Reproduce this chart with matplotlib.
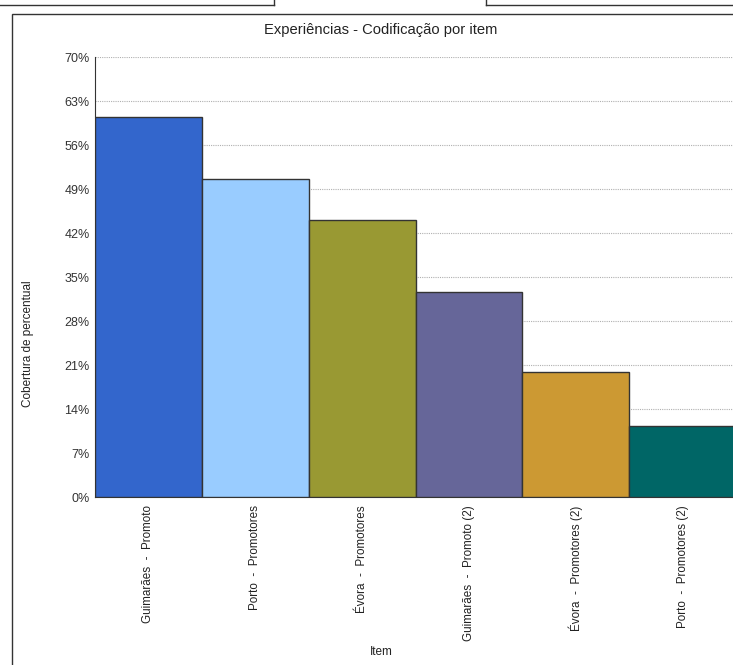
import matplotlib
matplotlib.use("Agg")
import matplotlib.pyplot as plt
from matplotlib.lines import Line2D
from matplotlib.patches import Rectangle

# chart data
categories = [
    "Guimarães  -  Promoto",
    "Porto  -  Promotores",
    "Évora  -  Promotores",
    "Guimarães  -  Promoto (2)",
    "Évora  -  Promotores (2)",
    "Porto  -  Promotores (2)",
]
values = [60.5, 50.6, 44.1, 32.6, 19.9, 11.3]
colors = ["#3366cc", "#99ccff", "#999933", "#666699", "#cc9933", "#006666"]
yticks = [0, 7, 14, 21, 28, 35, 42, 49, 56, 63, 70]

plt.rcParams["font.family"] = ["Liberation Sans", "DejaVu Sans"]

fig = plt.figure(figsize=(7.33, 6.65), dpi=100)

# outer frame and the two boxes at the top edge
fig.add_artist(Rectangle((12 / 733, -0.01), 1.0, (665 - 14) / 665 + 0.01,
                         transform=fig.transFigure, fill=False,
                         edgecolor="#333333", linewidth=1.0))
fig.add_artist(Line2D([0, 274 / 733], [1 - 5 / 665] * 2, transform=fig.transFigure,
                      color="#333333", linewidth=1.0))
fig.add_artist(Line2D([274 / 733] * 2, [1 - 5 / 665, 1.0], transform=fig.transFigure,
                      color="#333333", linewidth=1.0))
fig.add_artist(Line2D([486 / 733, 1.0], [1 - 5 / 665] * 2, transform=fig.transFigure,
                      color="#333333", linewidth=1.0))
fig.add_artist(Line2D([486 / 733] * 2, [1 - 5 / 665, 1.0], transform=fig.transFigure,
                      color="#333333", linewidth=1.0))

ax = fig.add_axes([95 / 733, (665 - 497) / 665, 1 - 95 / 733, 440 / 665])

x = range(len(categories))
ax.bar(x, values, width=1.0, color=colors, edgecolor="#333333", linewidth=1.0, zorder=3)

ax.set_ylim(0, 70)
ax.set_xlim(-0.5, 5.47)
ax.set_yticks(yticks)
ax.set_yticklabels([f"{t}%" for t in yticks], fontsize=9, color="#333333")
ax.set_xticks(list(x))
ax.set_xticklabels(categories, rotation=90, fontsize=8.4, color="#222222", va="top")
ax.tick_params(axis="x", length=0, pad=6)
ax.tick_params(axis="y", length=0, pad=4)

ax.yaxis.grid(True, linestyle=(0, (1, 1)), color="#b0b0b0", linewidth=0.8, zorder=0)
ax.set_axisbelow(True)

for side in ["top", "right"]:
    ax.spines[side].set_visible(False)
ax.spines["left"].set_color("#333333")
ax.spines["bottom"].set_color("#333333")

fig.text(28 / 733, 1 - 344 / 665, "Cobertura de percentual", rotation=90,
         ha="center", va="center", fontsize=8.5, color="#222222")
fig.text(381 / 733, 1 - 652 / 665, "Item", ha="center", va="center",
         fontsize=8.5, color="#222222")
fig.text(381 / 733, 1 - 30 / 665, "Experiências - Codificação por item",
         ha="center", va="center", fontsize=10.6, color="#222222")

fig.savefig("out.png", dpi=100)
